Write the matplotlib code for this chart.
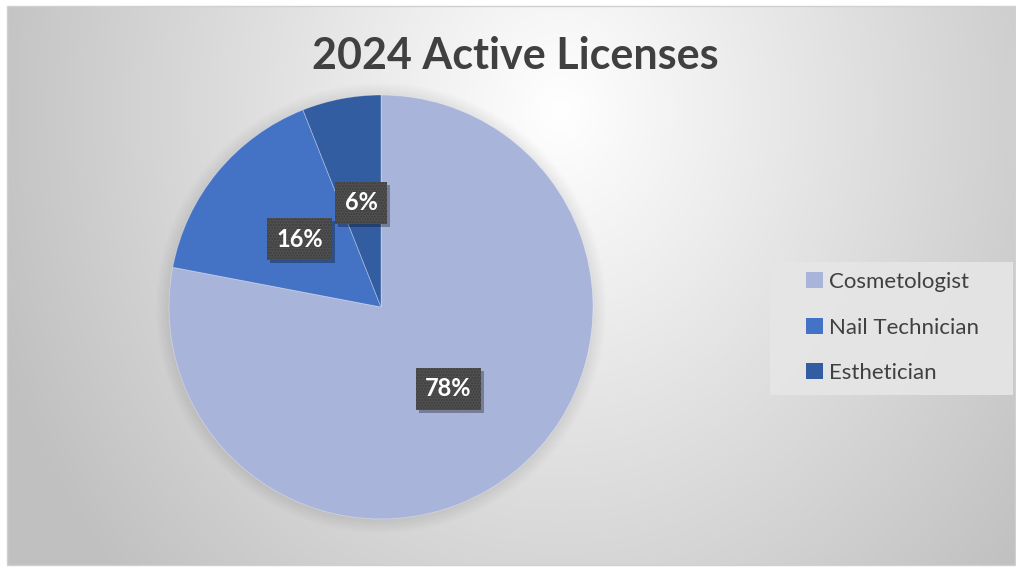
import numpy as np
import matplotlib
matplotlib.use("Agg")
import matplotlib.pyplot as plt
from matplotlib.patches import Rectangle, Circle
import matplotlib.transforms as mtransforms

categories = ["Cosmetologist", "Nail Technician", "Esthetician"]
values = [78, 16, 6]
colors = ["#A9B4DB", "#4472C4", "#325DA0"]
title = "2024 Active Licenses"

plt.rcParams['font.family'] = ['Lato', 'DejaVu Sans']
plt.rcParams['hatch.linewidth'] = 2.0

W, H = 1016, 567
fig = plt.figure(figsize=(W / 100, H / 100), dpi=100)
fig.patch.set_facecolor("white")

# chart area background (radial gradient)
x0, y0, x1, y1 = 7, 6, 1015, 565
bg = fig.add_axes([x0 / W, 1 - y1 / H, (x1 - x0) / W, (y1 - y0) / H])
xx, yy = np.meshgrid(np.arange(x0, x1), np.arange(y0, y1))
r = np.sqrt(((xx - 560) / 600.0) ** 2 + ((yy - 110) / 700.0) ** 2)
r = np.clip(r, 0, 1)
g = (255 - 63 * r) / 255.0
img = np.dstack([g, g, g])
bg.imshow(img, aspect="auto", extent=[0, 1, 0, 1], interpolation="bilinear")
bg.set_xlim(0, 1)
bg.set_ylim(0, 1)
bg.axis("off")
bg.add_patch(Rectangle((0, 0), 1, 1, transform=bg.transAxes, fill=False,
                       edgecolor="#D0D0D0", linewidth=1.0, clip_on=False))

# pie axes
cx, cy, R = 381, 307, 212
ax = fig.add_axes([(cx - R) / W, 1 - (cy + R) / H, 2 * R / W, 2 * R / H])
ax.set_facecolor("none")
ax.patch.set_alpha(0)

# soft shadow around pie
for rr in np.linspace(1.0, 1.06, 7):
    ax.add_patch(Circle((0.0, -0.005), rr, color="black", alpha=0.012, zorder=0,
                        lw=0, clip_on=False))

wedges, texts, autotexts = ax.pie(
    values, colors=colors, startangle=90, counterclock=False,
    autopct="%1.0f%%", pctdistance=0.5,
    wedgeprops=dict(edgecolor=(1, 1, 1, 0.35), linewidth=0.6),
    textprops=dict(color="white", fontsize=17, fontweight="bold"),
)
for wd in wedges:
    wd.set_zorder(2)
    wd.set_clip_on(False)

for t in autotexts:
    t.set_zorder(5)
    t.set_bbox(dict(boxstyle="square,pad=0.4", facecolor="#3F3F3F",
                    edgecolor="#4F4F4F", linewidth=0, hatch="......"))
ax.set_xlim(-1, 1)
ax.set_ylim(-1, 1)
ax.axis("off")

# title
fig.text(515 / W, 1 - 69 / H, title, ha="center", va="baseline",
         fontsize=31, fontweight="bold", color="#404040")

# legend
fig.patches.append(Rectangle((770 / W, 1 - 395 / H), 243 / W, 133 / H,
                             transform=fig.transFigure, facecolor="#E6E6E6",
                             edgecolor="none", alpha=0.9, zorder=1))
leg = fig.legend(wedges, categories, loc="center left",
                 bbox_to_anchor=(806 / W, 1 - 327.5 / H),
                 frameon=False, fontsize=16, labelcolor="#404040",
                 handlelength=0.75, handleheight=0.75, handletextpad=0.3,
                 labelspacing=1.15, borderpad=0, borderaxespad=0)
for h in leg.legend_handles:
    h.set_edgecolor("none")

# drop shadows behind label boxes
fig.canvas.draw()
renderer = fig.canvas.get_renderer()
for t in autotexts:
    bb = t.get_bbox_patch().get_window_extent(renderer)
    ax.add_patch(Rectangle((bb.x0 + 3, bb.y0 - 3), bb.width, bb.height,
                           transform=mtransforms.IdentityTransform(),
                           facecolor="black", edgecolor="none", alpha=0.3,
                           zorder=4, clip_on=False))

fig.savefig("out.png", dpi=100)
